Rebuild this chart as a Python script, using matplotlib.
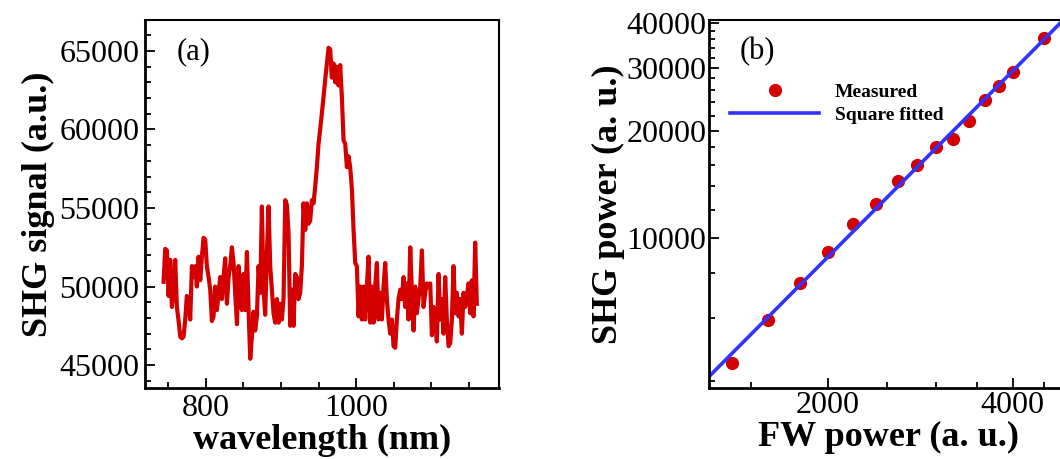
import numpy as np
import matplotlib.pyplot as plt
from matplotlib.ticker import MultipleLocator, FixedLocator, NullFormatter

plt.rcParams['font.family'] = ['Liberation Serif', 'DejaVu Serif']
plt.rcParams['mathtext.fontset'] = 'stix'

# panel (a): SHG spectrum
wavelength = [
    743.7, 745.9, 748.1, 750.4, 752.6, 754.8, 757.0, 759.2, 761.4, 763.7,
    765.9, 768.1, 770.3, 772.5, 774.7, 777.0, 779.2, 781.4, 783.6, 785.8,
    788.0, 790.3, 792.5, 794.7, 796.9, 799.1, 801.3, 803.6, 805.8, 808.0,
    810.2, 812.4, 814.7, 816.9, 819.1, 821.3, 823.5, 825.7, 828.0, 830.2,
    832.4, 834.6, 836.8, 839.0, 841.3, 843.5, 845.7, 847.9, 850.1, 852.3,
    854.6, 856.8, 859.0, 861.2, 863.4, 865.6, 867.9, 870.1, 872.3, 874.5,
    876.7, 878.9, 881.2, 883.4, 885.6, 887.8, 890.0, 892.3, 894.5, 896.7,
    898.9, 901.1, 903.3, 905.6, 907.8, 910.0, 912.2, 914.4, 916.6, 918.9,
    921.1, 923.3, 925.5, 927.7, 929.9, 932.2, 934.4, 936.6, 938.8, 941.0,
    943.3, 945.5, 947.7, 949.9, 952.1, 954.3, 956.6, 958.8, 961.0, 963.2,
    965.4, 967.6, 969.9, 972.1, 974.3, 976.5, 978.7, 980.9, 983.2, 985.4,
    987.6, 989.8, 992.0, 994.3, 996.5, 998.7, 1000.9, 1003.1, 1005.3, 1007.6,
    1009.8, 1012.0, 1014.2, 1016.4, 1018.6, 1020.9, 1023.1, 1025.3, 1027.5, 1029.7,
    1032.0, 1034.2, 1036.4, 1038.6, 1040.8, 1043.0, 1045.3, 1047.5, 1049.7, 1051.9,
    1054.1, 1056.3, 1058.6, 1060.8, 1063.0, 1065.2, 1067.4, 1069.6, 1071.9, 1074.1,
    1076.3, 1078.5, 1080.7, 1082.9, 1085.2, 1087.4, 1089.6, 1091.8, 1094.0, 1096.2,
    1098.5, 1100.7, 1102.9, 1105.1, 1107.3, 1109.6, 1111.8, 1114.0, 1116.2, 1118.4,
    1120.6, 1122.9, 1125.1, 1127.3, 1129.5, 1131.7, 1133.9, 1136.2, 1138.4, 1140.6,
    1142.8, 1145.0, 1147.2, 1149.5, 1151.7, 1153.9, 1156.1, 1158.3, 1160.5,
]
shg_signal = [
    50300, 52400, 52300, 49400, 51700, 48700, 49800, 51700, 48700, 47800,
    46800, 46700, 46800, 47900, 49400, 48700, 47900, 51300, 50600, 51300,
    50000, 51900, 50400, 51900, 53100, 53000, 51300, 50600, 49800, 47800,
    48100, 50000, 48500, 49600, 50600, 49200, 50600, 51800, 48900, 50600,
    51300, 52500, 51500, 49600, 47600, 51300, 49800, 48500, 50800, 48500,
    52200, 48500, 45400, 46800, 48400, 47200, 48100, 51300, 49600, 55100,
    49800, 48200, 52100, 55100, 51300, 49800, 48300, 47700, 49200, 47700,
    48900, 47900, 49200, 55500, 55200, 53400, 47500, 49800, 47500, 50800,
    50600, 49200, 49600, 51300, 55300, 53600, 55300, 54000, 54200, 55500,
    55300, 56400, 57600, 59100, 60000, 61000, 62100, 63200, 64200, 65200,
    65100, 63300, 64200, 63000, 64000, 62800, 64100, 62100, 59300, 59100,
    57600, 58300, 57600, 56200, 53600, 51500, 51300, 48100, 50000, 47900,
    50000, 47900, 50000, 51900, 47700, 50000, 47700, 50000, 51500, 47900,
    49600, 47900, 50000, 51500, 49200, 47900, 47000, 47900, 46200, 46100,
    47900, 49200, 49800, 49200, 50600, 48700, 50200, 47900, 52500, 49600,
    47200, 50000, 48300, 49200, 50000, 52300, 48700, 49600, 50200, 50000,
    50200, 46900, 48700, 48100, 46500, 50800, 47900, 49200, 47000, 50600,
    47900, 46200, 46400, 47900, 51300, 48300, 49600, 48100, 49200, 47000,
    49600, 48700, 49400, 50200, 48300, 50400, 48100, 52800, 48900,
]

# panel (b): SHG power vs FW power
fw_power = [1400, 1600, 1800, 2000, 2200, 2400, 2600, 2800, 3000, 3200,
            3400, 3600, 3800, 4000, 4500]
shg_power = [4490, 5910, 7510, 9140, 11000, 12470, 14460, 16070, 18040, 18990,
             21290, 24370, 26670, 29190, 36260]

fig = plt.figure(figsize=(10.6, 4.59), dpi=100)

red = '#d40000'
label_font = dict(fontsize=26, fontweight='bold')


def style_axes(ax):
    for side in ['left', 'bottom']:
        ax.spines[side].set_linewidth(2.0)
    for side in ['top', 'right']:
        ax.spines[side].set_linewidth(1.5)
    ax.tick_params(which='both', direction='in', top=False, right=False,
                   labelsize=23, width=1.3)
    ax.tick_params(which='major', length=7, pad=4)
    ax.tick_params(which='minor', length=4.5)


# ---- (a)
ax1 = fig.add_axes([145 / 1060, 71 / 459, 354 / 1060, 368 / 459])
ax1.plot(wavelength, shg_signal, color=red, lw=3.0)
ax1.set_xlim(719, 1190)
ax1.set_ylim(43540, 66970)
ax1.xaxis.set_major_locator(FixedLocator([800, 1000]))
ax1.xaxis.set_minor_locator(MultipleLocator(50))
ax1.yaxis.set_major_locator(MultipleLocator(5000))
ax1.yaxis.set_minor_locator(MultipleLocator(1000))
style_axes(ax1)
ax1.set_xlabel('wavelength (nm)', labelpad=1, **label_font)
ax1.set_ylabel('SHG signal (a.u.)', labelpad=3, **label_font)
ax1.text(0.09, 0.915, '(a)', transform=ax1.transAxes, fontsize=22,
         ha='left', va='center')

# ---- (b)
ax2 = fig.add_axes([709 / 1060, 71 / 459, 360 / 1060, 368 / 459])
ax2.set_xscale('log')
ax2.set_yscale('log')

coef = np.polyfit(np.log10(fw_power), np.log10(shg_power), 1)
x_fit = np.linspace(1000, 6000, 200)
y_fit = 10 ** np.polyval(coef, np.log10(x_fit))

ax2.plot(fw_power, shg_power, 'o', color=red, ms=8.5, label='Measured')
ax2.plot(x_fit, y_fit, color='#3333ff', lw=2.6, label='Square fitted')
ax2.set_xlim(1282, 4940)
ax2.set_ylim(3814, 40800)
ax2.xaxis.set_major_locator(FixedLocator([2000, 4000]))
ax2.xaxis.set_minor_locator(FixedLocator([1500, 2500, 3000, 3500, 4500]))
ax2.xaxis.set_major_formatter(plt.FuncFormatter(lambda v, p: f'{v:.0f}'))
ax2.xaxis.set_minor_formatter(NullFormatter())
ax2.yaxis.set_major_locator(FixedLocator([10000, 20000, 30000, 40000]))
ax2.yaxis.set_minor_locator(FixedLocator(
    [4000, 6000, 8000, 12000, 14000, 16000, 18000, 22000, 24000, 26000,
     28000, 32000, 34000, 36000, 38000]))
ax2.yaxis.set_major_formatter(plt.FuncFormatter(lambda v, p: f'{v:.0f}'))
ax2.yaxis.set_minor_formatter(NullFormatter())
style_axes(ax2)
ax2.tick_params(which='major', pad=2)
ax2.set_xlabel('FW power (a. u.)', labelpad=1, **label_font)
ax2.set_ylabel('SHG power (a. u.)', labelpad=1, **label_font)
ax2.text(740 / 1060, 1 - 52 / 459, '(b)', transform=fig.transFigure,
         fontsize=22, ha='left', va='center')
ax2.legend(frameon=False, loc='upper left',
           bbox_to_anchor=(730 / 1060, 1 - 83 / 459),
           bbox_transform=fig.transFigure, borderpad=0, borderaxespad=0,
           handlelength=4.6, handletextpad=0.8, labelspacing=0.3,
           prop=dict(family='Liberation Serif', weight='bold', size=14))

fig.savefig('out.png', dpi=100)
